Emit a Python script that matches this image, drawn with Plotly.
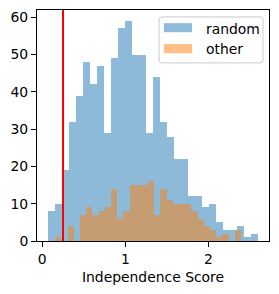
import numpy as np
import plotly.graph_objects as go

# ---- data ----
random_counts = [8, 10, 19, 32, 39, 48, 42, 47, 29, 49, 57, 59, 50, 50, 29,
                 44, 32, 28, 22, 22, 12, 12, 9, 10, 5, 3, 3, 4, 1, 2]
random_range = (0.064, 2.602)

other_counts = [1, 0, 4, 0, 7, 9, 7, 8, 9, 14, 6, 8, 15, 15, 15,
                16, 7, 14, 11, 10, 10, 10, 8, 6, 4, 3, 1, 2, 0, 3]
other_range = (0.157, 2.391)

threshold = 0.25
x_ticks = [0, 1, 2]
y_ticks = [0, 10, 20, 30, 40, 50, 60]
series_names = ["random", "other"]
x_label = "Independence Score"


def bins(rng, n):
    edges = np.linspace(rng[0], rng[1], n + 1)
    return (edges[:-1] + edges[1:]) / 2, np.diff(edges)


FONT = dict(family="DejaVu Sans", size=13.9, color="black")
BLUE = "#1f77b4"
ORANGE = "#ff7f0e"

fig = go.Figure()
for counts, rng, color, name in [(random_counts, random_range, BLUE, series_names[0]),
                                 (other_counts, other_range, ORANGE, series_names[1])]:
    c, w = bins(rng, len(counts))
    fig.add_trace(go.Bar(x=c, y=counts, width=w, name=name, showlegend=False,
                         marker=dict(color=color, line=dict(width=0)), opacity=0.5))

fig.add_vline(x=threshold, line=dict(color="red", width=2))

all_lo = min(random_range[0], other_range[0])
all_hi = max(random_range[1], other_range[1])
span = all_hi - all_lo
ymax = max(max(random_counts), max(other_counts)) * 1.05

fig.update_layout(
    width=279, height=294,
    margin=dict(l=37, r=10, t=10, b=53, autoexpand=False),
    paper_bgcolor="white", plot_bgcolor="white",
    barmode="overlay", bargap=0,
    font=FONT,
)
fig.update_xaxes(range=[all_lo - 0.05 * span, all_hi + 0.05 * span],
                 tickvals=x_ticks, ticks="outside", ticklen=5, tickwidth=1,
                 tickcolor="black", showline=True, linecolor="black", linewidth=1,
                 mirror=True, showgrid=False, zeroline=False,
                 title=dict(text=x_label, font=FONT, standoff=6),
                 tickfont=FONT, automargin=False)
fig.update_yaxes(range=[0, ymax], tickvals=y_ticks, ticks="outside", ticklen=5,
                 tickwidth=1, tickcolor="black", showline=True, linecolor="black",
                 linewidth=1, mirror=True, showgrid=False, zeroline=False,
                 tickfont=FONT, automargin=False)

# legend drawn in paper coordinates (matplotlib style)
lx0, lx1, ly0, ly1 = 0.526, 0.974, 0.771, 0.970
r = 0.012
path = (f"M {lx0+r},{ly0} L {lx1-r},{ly0} Q {lx1},{ly0} {lx1},{ly0+r} "
        f"L {lx1},{ly1-r} Q {lx1},{ly1} {lx1-r},{ly1} L {lx0+r},{ly1} "
        f"Q {lx0},{ly1} {lx0},{ly1-r} L {lx0},{ly0+r} Q {lx0},{ly0} {lx0+r},{ly0} Z")
fig.add_shape(type="path", path=path, xref="paper", yref="paper",
              fillcolor="rgba(255,255,255,0.8)", line=dict(color="#cccccc", width=1))
for (py0, py1, yc), color, name in [((0.904, 0.943, 0.917), BLUE, series_names[0]),
                                    ((0.813, 0.853, 0.830), ORANGE, series_names[1])]:
    fig.add_shape(type="rect", xref="paper", yref="paper", x0=0.547, x1=0.668,
                  y0=py0, y1=py1, fillcolor=color, opacity=0.5, line=dict(width=0))
    fig.add_annotation(x=0.718, y=yc, xref="paper", yref="paper", text=name,
                       showarrow=False, xanchor="left", yanchor="middle", font=FONT)

fig.write_html("out.html", config={"displayModeBar": False},
               post_script="document.body.style.margin='0';document.body.style.padding='0';")
